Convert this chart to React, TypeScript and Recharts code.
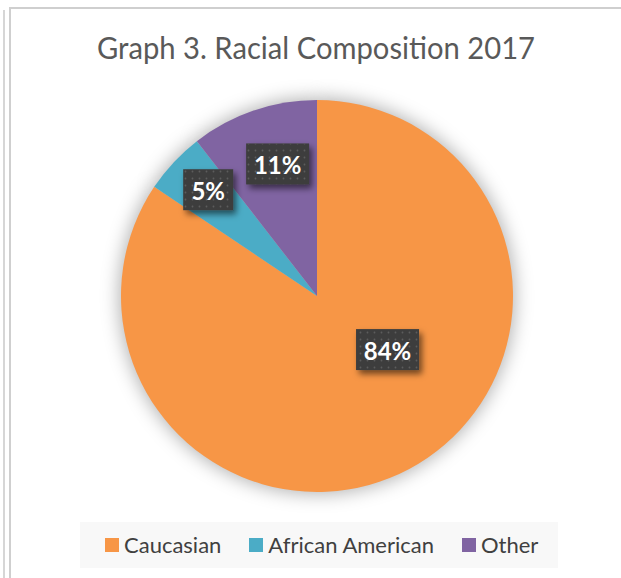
import React from 'react';
import { PieChart, Pie, Cell, Legend } from 'recharts';

const categories = ['Caucasian', 'African American', 'Other'];
const shares = [84.4, 5.1, 10.5];
const colors = ['#F79646', '#4BACC6', '#8064A2'];
const chartTitle = 'Graph 3. Racial Composition 2017';

const data = categories.map((name, i) => ({ name, value: shares[i] }));

// label placement relative to slice (radius fraction, angle shift in degrees)
const labelPlacement = [
  { rf: 0.452, da: 24.7 },
  { rf: 0.776, da: -1.3 },
  { rf: 0.703, da: -2.3 },
];
const RAD = Math.PI / 180;

function renderLabel(props: any) {
  const { cx, cy, midAngle, outerRadius, percent, index } = props;
  const p = labelPlacement[index];
  const a = (midAngle + p.da) * RAD;
  const r = outerRadius * p.rf;
  const x = cx + r * Math.cos(a);
  const y = cy - r * Math.sin(a);
  const txt = `${Math.round(percent * 100)}%`;
  const w = 18 + (txt.length - 1) * 13 + 19;
  const h = 41;
  return (
    <g key={`lbl-${index}`}>
      <rect x={x - w / 2} y={y - h / 2} width={w} height={h} fill="#3d3d3d" filter="url(#lblShadow)" />
      <rect x={x - w / 2} y={y - h / 2} width={w} height={h} fill="url(#dotPattern)" />
      <text
        x={x}
        y={y + 1}
        textAnchor="middle"
        dominantBaseline="central"
        fill="#ffffff"
        fontFamily="Lato, 'Open Sans', sans-serif"
        fontWeight={700}
        fontSize={24}
      >
        {txt}
      </text>
    </g>
  );
}

function LegendContent(props: any) {
  const raw = (props.payload || []).filter((e: any) => e.type !== 'none');
  const payload = categories
    .map((c) => raw.find((e: any) => e.value === c))
    .filter(Boolean);
  return (
    <div
      style={{
        width: 478,
        height: 46,
        background: '#f8f8f8',
        display: 'flex',
        alignItems: 'center',
        paddingLeft: 25,
        boxSizing: 'border-box',
        gap: 28,
        fontFamily: "Lato, 'Open Sans', sans-serif",
        fontSize: 22,
        color: '#404040',
      }}
    >
      {payload.map((e: any) => (
        <div key={e.value} style={{ display: 'flex', alignItems: 'center' }}>
          <span style={{ display: 'inline-block', width: 14, height: 14, background: e.color, marginRight: 5 }} />
          <span style={{ lineHeight: '24px' }}>{e.value}</span>
        </div>
      ))}
    </div>
  );
}

export default function App() {
  return (
    <div style={{ position: 'absolute', left: 0, top: 0, width: 621, height: 578, background: '#ffffff', overflow: 'hidden' }}>
      <svg width={0} height={0} style={{ position: 'absolute' }}>
        <defs>
          <filter id="pieGlow" x="-30%" y="-30%" width="160%" height="160%">
            <feGaussianBlur stdDeviation="9" />
          </filter>
          <filter id="lblShadow" x="-40%" y="-40%" width="180%" height="180%">
            <feDropShadow dx="3" dy="4" stdDeviation="3" floodColor="#000" floodOpacity="0.55" />
          </filter>
          <pattern id="dotPattern" width="7" height="7" patternUnits="userSpaceOnUse">
            <circle cx="3.5" cy="3.5" r="0.9" fill="#5c5c5c" />
          </pattern>
        </defs>
      </svg>
      {/* frame lines */}
      <div style={{ position: 'absolute', left: 3, top: 10, width: 2, height: 600, background: '#d6d6d6' }} />
      <div
        style={{
          position: 'absolute',
          left: 9,
          top: 7,
          width: 700,
          height: 700,
          borderLeft: '2px solid #cfcfcf',
          borderTop: '2px solid #cfcfcf',
        }}
      />
      <svg width={621} height={80} style={{ position: 'absolute', left: 0, top: 0 }}>
        <text
          x={316}
          y={59}
          textAnchor="middle"
          fontFamily="Lato, 'Open Sans', sans-serif"
          fontSize={30}
          fill="#595959"
          textLength={438}
          lengthAdjust="spacingAndGlyphs"
        >
          {chartTitle}
        </text>
      </svg>
      <div style={{ position: 'absolute', left: 0, top: 0 }}>
        <PieChart width={621} height={578} margin={{ top: 0, right: 0, bottom: 0, left: 0 }}>
          <Pie
            data={data}
            dataKey="value"
            nameKey="name"
            cx={317}
            cy={296}
            outerRadius={198}
            startAngle={90}
            endAngle={-270}
            stroke="none"
            isAnimationActive={false}
            legendType="none"
            label={false}
            labelLine={false}
          >
            {data.map((d) => (
              <Cell key={`g-${d.name}`} fill="#000000" fillOpacity={0.3} filter="url(#pieGlow)" />
            ))}
          </Pie>
          <Pie
            data={data}
            dataKey="value"
            nameKey="name"
            cx={317}
            cy={296}
            outerRadius={196}
            startAngle={90}
            endAngle={-270}
            stroke="none"
            isAnimationActive={false}
            label={renderLabel}
            labelLine={false}
          >
            {data.map((d, i) => (
              <Cell key={d.name} fill={colors[i]} />
            ))}
          </Pie>
          <Legend
            content={<LegendContent />}
            wrapperStyle={{ position: 'absolute', left: 80, top: 522, width: 478, height: 46 }}
          />
        </PieChart>
      </div>
    </div>
  );
}
